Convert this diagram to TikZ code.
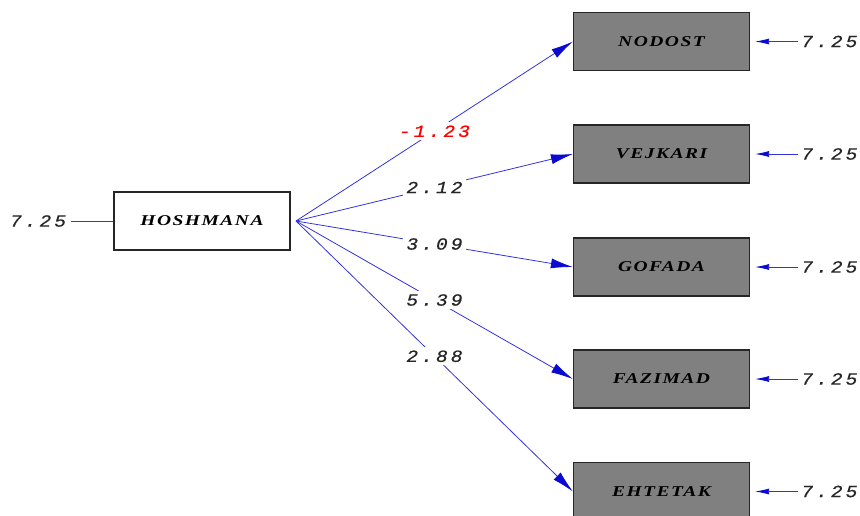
\documentclass[tikz,border=0pt]{standalone}
\usepackage{fontspec}
\usetikzlibrary{arrows.meta}
\newfontfamily\numfont[LetterSpace=18,FakeStretch=1.15,FakeBold=0.6]{Liberation Mono}
\newfontfamily\boxfont[LetterSpace=10,FakeStretch=1.3]{Liberation Serif}
\definecolor{lineblue}{RGB}{50,50,225}
\definecolor{tipblue}{RGB}{10,10,210}
\definecolor{boxgray}{RGB}{128,128,128}
\begin{document}
\begin{tikzpicture}[x=1pt,y=-1pt,
  boxbase/.style={draw=black!85,line width=1.2pt,minimum width=176pt,minimum height=58pt,inner sep=0pt,font=\boxfont\fontsize{15}{17}\selectfont\bfseries\itshape},
  latent/.style={boxbase},
  obs/.style={boxbase,fill=boxgray},
  conn/.style={draw=lineblue,line width=0.8pt,-{Latex[length=22pt,width=10pt,color=tipblue]}},
  errconn/.style={draw=lineblue,line width=0.8pt,-{Latex[length=14pt,width=6pt,color=tipblue]}},
  lbl/.style={fill=white,inner sep=3pt,font=\numfont\fontsize{17}{19}\selectfont\itshape,text=black!85},
  errnum/.style={inner sep=1pt,font=\numfont\fontsize{17}{19}\selectfont\itshape,text=black!85}]
\useasboundingbox (0,0) rectangle (860,515);
\node[latent] (h) at (202,221) {HOSHMANA};
\node[obs] (n1) at (661.5,41.5) {NODOST};
\node[obs] (n2) at (661.5,154) {VEJKARI};
\node[obs] (n3) at (661.5,267) {GOFADA};
\node[obs] (n4) at (661.5,379) {FAZIMAD};
\node[obs] (n5) at (661.5,491.5) {EHTETAK};
\coordinate (src) at (296,221);
\draw[conn] (src) -- node[lbl,text=red]{-1.23} (n1.west);
\draw[conn] (src) -- node[lbl]{2.12} (n2.west);
\draw[conn] (src) -- node[lbl]{3.09} (n3.west);
\draw[conn] (src) -- node[lbl]{5.39} (n4.west);
\draw[conn] (src) -- node[lbl]{2.88} (n5.west);
\node[errnum] (eh) at (38,221) {7.25};
\draw[lineblue,line width=0.8pt] ([xshift=4pt]eh.east) -- (h.west);
\foreach \i in {1,...,5}{
  \node[errnum,anchor=west] (e\i) at ([xshift=50pt]n\i.east) {7.25};
  \coordinate (t\i) at ([xshift=5pt]n\i.east);
  \draw[errconn] ([xshift=-2pt]e\i.west) -- (t\i);
}
\end{tikzpicture}
\end{document}
